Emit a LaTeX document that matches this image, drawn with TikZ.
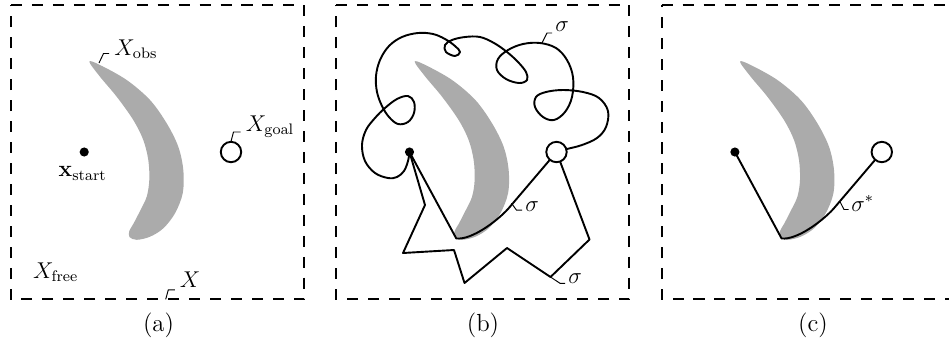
\documentclass[tikz,border=0pt]{standalone}
\usepackage{amsmath}
\begin{document}
\begin{tikzpicture}[x=0.525pt,y=-0.525pt,
  region/.style={line width=1pt, dash pattern=on 5.8pt off 5.2pt},
  pathline/.style={line width=1pt, line join=round},
  leader/.style={line width=0.5pt},
  lbl/.style={inner sep=0pt, anchor=base west, font=\large},
  captxt/.style={inner sep=0pt, anchor=base, font=\fontsize{13}{15}\selectfont},
  startdot/.style={circle, fill=black, inner sep=0pt, minimum size=4.8pt},
  goalc/.style={circle, draw, line width=1pt, fill=white, inner sep=0pt, minimum size=10.7pt},
  obstacle/.pic={\fill[black!33] plot[smooth cycle, tension=0.55] coordinates {
    (89.3,61.7) (100,65) (126.7,80) (150,100) (166.7,123.3) (178.3,146.7)
    (183.3,170) (182.7,193.3) (175,213.3) (163.3,228.3) (150,236.7) (136.7,239.8)
    (129.5,237) (129.3,231) (133.3,224) (140,211) (146.7,196.7) (149.3,180)
    (148.3,160) (143.3,140) (133.3,120) (116.7,96.7) (100,76.7)};}
]
\useasboundingbox (0,0) rectangle (949,345);

% regions
\draw[region] (11,5) -- (304,5) -- (304,299.3) -- (11,299.3) -- cycle;
\draw[region] (336.3,5) -- (629.4,5) -- (629.4,299.3) -- (336.3,299.3) -- cycle;
\draw[region] (661.7,5) -- (955,5) -- (955,299.3) -- (661.7,299.3) -- cycle;

% obstacles
\pic at (0,0) {obstacle};
\pic at (325.35,0) {obstacle};
\pic at (650.7,0) {obstacle};

% key points
\coordinate (s1) at (84.2,152);
\coordinate (g1) at (231,152);
\coordinate (s2) at (409.5,152);
\coordinate (g2) at (556.5,152);
\coordinate (s3) at (734.9,152);
\coordinate (g3) at (881.8,152);

% panel (b) paths
\draw[pathline] plot[smooth, tension=0.6] coordinates {
  (409.5,152) (408,161) (404,171) (397,177) (388,178) (375,173) (365,161)
  (362,145) (366,130) (375,118) (385,108) (397,99) (408,96) (414,102)
  (414,113) (408,122) (398,124) (389,117) (382,106) (377,92) (376,76)
  (380,60) (389,46) (402,37) (418,33) (433,34) (445,39) (455,46) (460,52)
  (455,56) (446,52) (445,45) (452,40) (465,37) (480,37) (494,43) (507,52)
  (518,62) (526,72) (527,80) (519,83) (506,79) (497,70) (498,59) (508,50)
  (523,44) (540,43) (556,48) (567,60) (573,77) (572,97) (565,112) (554,120)
  (543,117) (535,107) (536,97) (546,92) (563,90) (583,92) (599,98) (608,111)
  (606,127) (597,138) (582,145) (567,149) (556.5,152)};
\draw[pathline] (s2) -- (456.3,238.5) .. controls (472,240) and (497,221) .. (508,209) -- (g2);
\draw[pathline] (s2) -- (425,205) -- (403,253) -- (454,250) -- (464.5,283)
  -- (507,248) -- (550.5,277) -- (589.5,239.5) -- (g2);

% panel (c) path
\draw[pathline] (s3) -- (781.6,238.5) .. controls (797.3,240) and (822.3,221) .. (833.3,209) -- (g3);

% points
\node[startdot] (S1) at (s1) {};
\node[goalc] (G1) at (g1) {};
\node[startdot] (S2) at (s2) {};
\node[goalc] (G2) at (g2) {};
\node[startdot] (S3) at (s3) {};
\node[goalc] (G3) at (g3) {};

% labels panel (a)
\coordinate (obsp) at (99,63);
\draw[leader] (obsp) -- ++(4.5,-9.5) -- ++(5.5,0);
\node[lbl] (Lobs) at (114,55) {$X_{\mathrm{obs}}$};
\coordinate (goalp) at (231,141.5);
\draw[leader] (goalp) -- ++(2.5,-9.5) -- ++(7,0);
\node[lbl] (Lgoal) at (245.5,131.5) {$X_{\mathrm{goal}}$};
\node[lbl] (Lstart) at (58.3,176.7) {$\mathbf{x}_{\mathrm{start}}$};
\node[lbl] (Lfree) at (32.7,278) {$X_{\mathrm{free}}$};
\coordinate (Xp) at (165.7,299.3);
\draw[leader] (Xp) -- ++(2.6,-9.5) -- ++(6.5,0);
\node[lbl] (LX) at (179.5,287.7) {$X$};

% labels panel (b)
\coordinate (sigp1) at (542,43);
\draw[leader] (sigp1) -- ++(5,-10) -- ++(5,0);
\node[lbl] (Ls1) at (555,31.7) {$\sigma$};
\coordinate (sigp2) at (511.5,203.3);
\draw[leader] (sigp2) -- ++(5,6.8) -- ++(5.5,0);
\node[lbl] (Ls2) at (525,211.7) {$\sigma$};
\coordinate (sigp3) at (550.5,277);
\draw[leader] (sigp3) -- ++(9.5,6.3) -- ++(5,0);
\node[lbl] (Ls3) at (568,283.5) {$\sigma$};

% label panel (c)
\coordinate (sigp4) at (840,201.7);
\draw[leader] (sigp4) -- ++(4,7.8) -- ++(4.5,0);
\node[lbl] (Ls4) at (851,211) {$\sigma^{*}$};

% captions
\node[captxt] (ca) at (158.5,331) {(a)};
\node[captxt] (cb) at (483,331) {(b)};
\node[captxt] (cc) at (813,331) {(c)};
\end{tikzpicture}
\end{document}
